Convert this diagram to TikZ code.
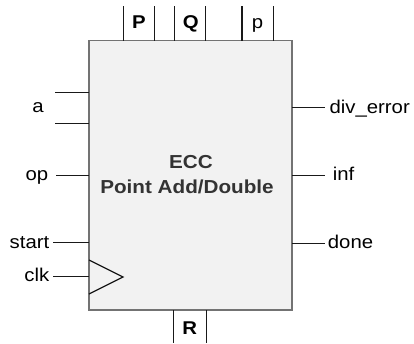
\documentclass[tikz,border=0pt]{standalone}
\usepackage{fontspec}
\setmainfont{Liberation Sans}
\newfontfamily\lblfont[FakeStretch=1.1]{Liberation Sans}
\begin{document}
\begin{tikzpicture}[x=1pt,y=-1pt,
  wire/.style={draw=black!90, line width=1.2pt},
  lbl/.style={inner sep=0pt, font=\lblfont\fontsize{18.5}{20}\selectfont, text=black},
  blbl/.style={inner sep=0pt, font=\lblfont\fontsize{18.5}{20}\selectfont\bfseries, text=black},
  ttl/.style={inner sep=0pt, anchor=base, text=black!80, font=\lblfont\fontsize{18.8}{25}\selectfont\bfseries},
  blockbox/.style={draw=black!55, line width=1.3pt, fill=black!5, rectangle, inner sep=0pt, outer sep=0pt}]
\useasboundingbox (0,0) rectangle (414,343);
\node[blockbox, minimum width=203pt, minimum height=269.5pt] (blk) at (190.5,175.25) {};
\node[ttl] (ecc) at (191,168.3) {ECC};
\node[ttl] (pad) at (187,193.3) {Point Add/Double};
% top buses
\coordinate (t1) at (123.3,6); \coordinate (t2) at (154.7,6);
\coordinate (t3) at (174.7,6); \coordinate (t4) at (205.3,6);
\coordinate (t5) at (242,6);   \coordinate (t6) at (273.3,6);
\foreach \c in {t1,t2,t3,t4,t5,t6} \draw[wire] (\c) -- (\c |- blk.north);
\node[blbl, anchor=base] (P) at (138.8,28) {P};
\node[blbl, anchor=base] (Q) at (190.8,28) {Q};
\node[lbl, anchor=base] (p) at (257.5,28) {p};
% bottom bus
\coordinate (b1) at (173.3,343); \coordinate (b2) at (206.7,343);
\foreach \c in {b1,b2} \draw[wire] (\c |- blk.south) -- (\c);
\node[blbl, anchor=base] (R) at (189.6,334) {R};
% left inputs
\coordinate (a1) at (55,92.5); \coordinate (a2) at (55,123.5);
\coordinate (opc) at (56,175.5); \coordinate (stc) at (53,242.7); \coordinate (clkc) at (53,276.7);
\foreach \c in {a1,a2,opc,stc,clkc} \draw[wire] (\c) -- (\c -| blk.west);
\node[lbl, anchor=base] (a) at (38,112.7) {a};
\node[lbl, anchor=base east] (op) at (48.5,180.5) {op};
\node[lbl, anchor=base east] (start) at (49.5,248.3) {start};
\node[lbl, anchor=base east] (clk) at (49.5,281.7) {clk};
% clock triangle
\coordinate (tr1) at (89,260); \coordinate (tr2) at (123,277); \coordinate (tr3) at (89,294);
\draw[wire, line join=miter] (tr1) -- (tr2) -- (tr3);
% right outputs
\coordinate (de) at (325.3,107.7); \coordinate (infc) at (325.3,175.3); \coordinate (donec) at (325,243.3);
\foreach \c in {de,infc,donec} \draw[wire] (\c -| blk.east) -- (\c);
\node[lbl, anchor=base west] (div) at (329.3,113.3) {div\_error};
\node[lbl, anchor=base west] (inf) at (332.7,180.5) {inf};
\node[lbl, anchor=base west] (done) at (327.7,248.5) {done};
\end{tikzpicture}
\end{document}
